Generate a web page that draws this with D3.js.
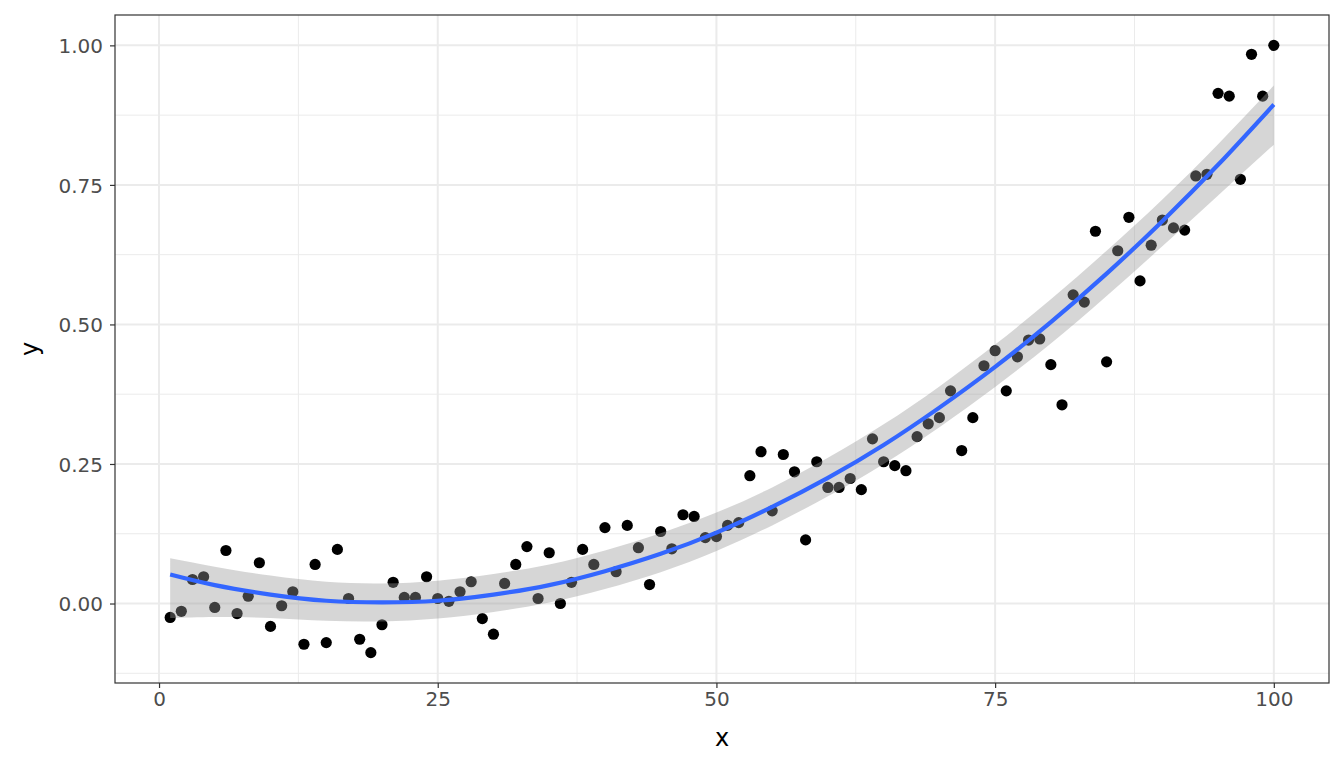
<!DOCTYPE html>
<html lang="en">
<head>
    <meta charset="UTF-8">
    <title>y vs x with smooth</title>
    <script src="https://d3js.org/d3.v7.min.js"></script>
    <style>
        body { margin: 0; background: #ffffff; font-family: "DejaVu Sans", sans-serif; }
        .tick text { fill: #4d4d4d; font-size: 20px; font-family: "DejaVu Sans", sans-serif; }
        .tick line { stroke: #333333; }
        .axis-title { font-size: 24px; fill: #000000; font-family: "DejaVu Sans", sans-serif; }
    </style>
</head>
<body>
    <svg width="1344" height="768"></svg>
    <script>
        // Observed points, x = 1..100
        const pointY = [
            -0.025, -0.014, 0.043, 0.048, -0.007, 0.095, -0.018, 0.013, 0.073, -0.041,
            -0.004, 0.021, -0.073, 0.070, -0.070, 0.097, 0.009, -0.064, -0.088, -0.038,
            0.038, 0.011, 0.011, 0.048, 0.009, 0.004, 0.021, 0.039, -0.027, -0.055,
            0.036, 0.070, 0.102, 0.009, 0.091, 0.000, 0.038, 0.097, 0.070, 0.136,
            0.057, 0.140, 0.100, 0.034, 0.129, 0.098, 0.159, 0.156, 0.118, 0.120,
            0.140, 0.145, 0.229, 0.272, 0.166, 0.267, 0.236, 0.114, 0.254, 0.208,
            0.208, 0.224, 0.204, 0.295, 0.254, 0.247, 0.238, 0.299, 0.322, 0.333,
            0.381, 0.274, 0.333, 0.426, 0.453, 0.381, 0.442, 0.472, 0.474, 0.428,
            0.356, 0.553, 0.540, 0.667, 0.433, 0.632, 0.692, 0.578, 0.642, 0.687,
            0.673, 0.669, 0.766, 0.769, 0.914, 0.909, 0.760, 0.984, 0.909, 1.000
        ];
        const pointX = pointY.map((d, i) => i + 1);

        // Smooth line and its band, read at these x values
        const fitX = [1, 5, 10, 15, 20, 25, 30, 35, 40, 45, 50, 55, 60, 65, 70, 75, 80, 85, 90, 95, 100];
        const fitY = [0.052, 0.033, 0.016, 0.005, 0.002, 0.005, 0.016, 0.033, 0.058, 0.089, 0.127,
                      0.173, 0.225, 0.284, 0.351, 0.424, 0.504, 0.591, 0.685, 0.786, 0.894];
        const fitHigh = [0.081, 0.066, 0.050, 0.039, 0.036, 0.041, 0.053, 0.070, 0.095, 0.126, 0.163,
                         0.208, 0.261, 0.321, 0.389, 0.464, 0.545, 0.632, 0.724, 0.823, 0.928];
        const fitLow = [-0.026, -0.024, -0.026, -0.031, -0.032, -0.027, -0.015, 0.002, 0.026, 0.056, 0.094,
                        0.140, 0.192, 0.250, 0.316, 0.388, 0.466, 0.551, 0.640, 0.731, 0.822];

        const xTicks = [0, 25, 50, 75, 100];
        const xMinor = [12.5, 37.5, 62.5, 87.5];
        const yTicks = [0, 0.25, 0.5, 0.75, 1.0];
        const yMinor = [-0.125, 0.125, 0.375, 0.625, 0.875];

        const panel = {left: 115, right: 1329, top: 15, bottom: 683};

        const svg = d3.select("svg");

        const x = d3.scaleLinear()
                    .domain([-3.95, 104.95])
                    .range([panel.left, panel.right]);
        const y = d3.scaleLinear()
                    .domain([-0.1424, 1.0544])
                    .range([panel.bottom, panel.top]);

        // Minor grid
        svg.append("g").selectAll("line")
           .data(xMinor).enter().append("line")
           .attr("x1", d => x(d)).attr("x2", d => x(d))
           .attr("y1", panel.top).attr("y2", panel.bottom)
           .attr("stroke", "#ebebeb").attr("stroke-width", 1);
        svg.append("g").selectAll("line")
           .data(yMinor).enter().append("line")
           .attr("x1", panel.left).attr("x2", panel.right)
           .attr("y1", d => y(d)).attr("y2", d => y(d))
           .attr("stroke", "#ebebeb").attr("stroke-width", 1);

        // Major grid
        svg.append("g").selectAll("line")
           .data(xTicks).enter().append("line")
           .attr("x1", d => x(d)).attr("x2", d => x(d))
           .attr("y1", panel.top).attr("y2", panel.bottom)
           .attr("stroke", "#ebebeb").attr("stroke-width", 2);
        svg.append("g").selectAll("line")
           .data(yTicks).enter().append("line")
           .attr("x1", panel.left).attr("x2", panel.right)
           .attr("y1", d => y(d)).attr("y2", d => y(d))
           .attr("stroke", "#ebebeb").attr("stroke-width", 2);

        // Points
        svg.append("g").selectAll("circle")
           .data(pointY).enter().append("circle")
           .attr("cx", (d, i) => x(pointX[i]))
           .attr("cy", d => y(d))
           .attr("r", 5.6)
           .attr("fill", "#000000");

        // Confidence band
        const band = d3.area()
                       .x((d, i) => x(fitX[i]))
                       .y0((d, i) => y(fitLow[i]))
                       .y1((d, i) => y(fitHigh[i]))
                       .curve(d3.curveNatural);
        svg.append("path")
           .datum(fitX)
           .attr("d", band)
           .attr("fill", "#999999")
           .attr("fill-opacity", 0.4);

        // Smooth line
        const line = d3.line()
                       .x((d, i) => x(fitX[i]))
                       .y((d, i) => y(fitY[i]))
                       .curve(d3.curveNatural);
        svg.append("path")
           .datum(fitX)
           .attr("d", line)
           .attr("fill", "none")
           .attr("stroke", "#3366ff")
           .attr("stroke-width", 4.2);

        // Panel border
        svg.append("rect")
           .attr("x", panel.left).attr("y", panel.top)
           .attr("width", panel.right - panel.left)
           .attr("height", panel.bottom - panel.top)
           .attr("fill", "none")
           .attr("stroke", "#333333")
           .attr("stroke-width", 1.2);

        // Axes
        const xAxis = svg.append("g")
           .attr("transform", `translate(0,${panel.bottom})`)
           .call(d3.axisBottom(x).tickValues(xTicks).tickSize(5).tickPadding(4).tickFormat(d3.format("d")));
        const yAxis = svg.append("g")
           .attr("transform", `translate(${panel.left},0)`)
           .call(d3.axisLeft(y).tickValues(yTicks).tickSize(5).tickPadding(7).tickFormat(d3.format(".2f")));
        [xAxis, yAxis].forEach(a => {
            a.select(".domain").remove();
            a.selectAll(".tick line").attr("stroke", "#333333").attr("stroke-width", 1.2);
            a.attr("font-family", null).attr("font-size", null);
        });
        yAxis.selectAll(".tick text").attr("dy", "0.36em");

        // Axis titles
        svg.append("text")
           .attr("class", "axis-title")
           .attr("x", (panel.left + panel.right) / 2)
           .attr("y", 746)
           .attr("text-anchor", "middle")
           .text("x");
        svg.append("text")
           .attr("class", "axis-title")
           .attr("transform", `translate(38,${(panel.top + panel.bottom) / 2}) rotate(-90)`)
           .attr("text-anchor", "middle")
           .text("y");
    </script>
</body>
</html>
